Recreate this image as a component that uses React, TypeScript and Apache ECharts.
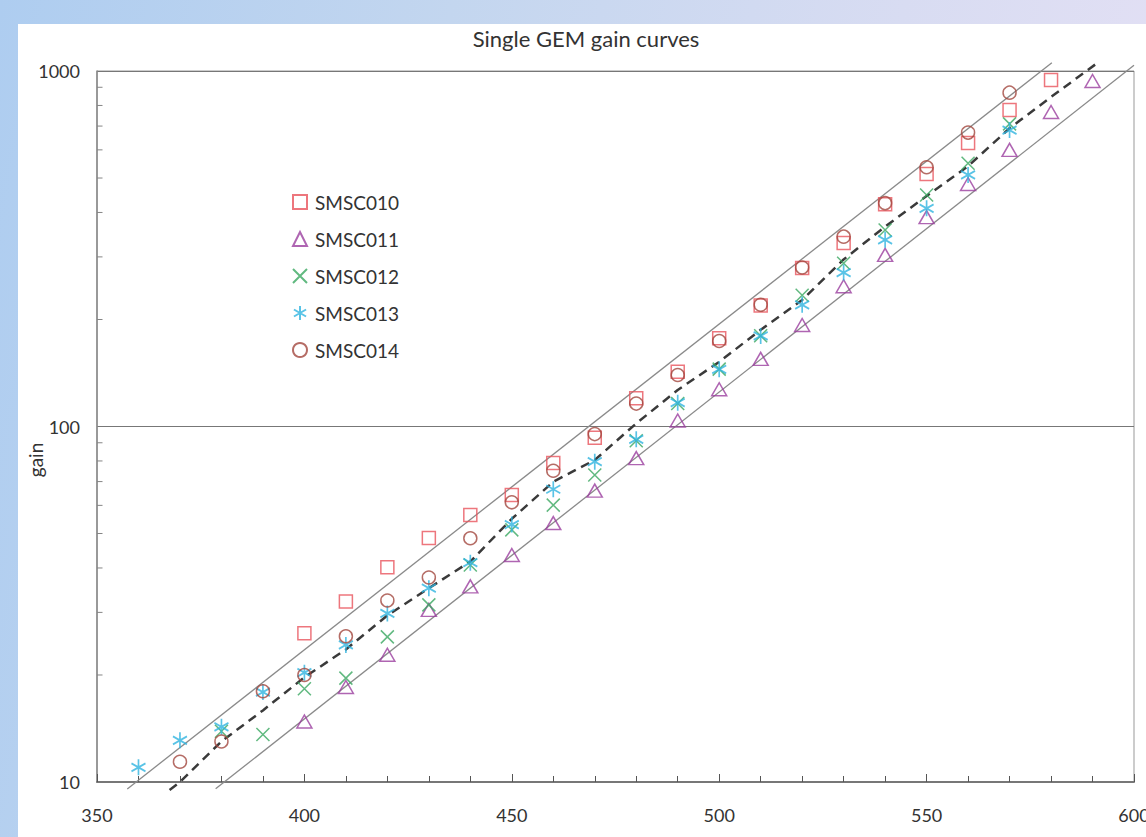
import React, { useEffect, useRef } from "react";
import * as echarts from "echarts";

// ---- data ----
const V010 = [400, 410, 420, 430, 440, 450, 460, 470, 480, 490, 500, 510, 520, 530, 540, 550, 560, 570, 580];
const G010 = [26.2, 32.2, 40.2, 48.6, 56.4, 64.2, 79.0, 93.0, 120, 142.6, 177, 219, 279, 328, 422, 513, 627, 777, 943];

const V011 = [400, 410, 420, 430, 440, 450, 460, 470, 480, 490, 500, 510, 520, 530, 540, 550, 560, 570, 580, 590];
const G011 = [14.8, 18.5, 22.8, 30.5, 35.5, 43.5, 53.5, 66.0, 81.5, 104, 127.3, 155, 193, 248, 304, 388, 481, 600, 767, 937];

const V012 = [380, 390, 400, 410, 420, 430, 440, 450, 460, 470, 480, 490, 500, 510, 520, 530, 540, 550, 560, 570];
const G012 = [13.9, 13.6, 18.3, 19.6, 25.6, 31.5, 40.8, 51.2, 60.1, 73.0, 91.2, 116, 145, 180, 234, 288, 357, 448, 550, 710];

const V013 = [360, 370, 380, 390, 400, 410, 420, 430, 440, 450, 460, 470, 480, 490, 500, 510, 520, 530, 540, 550, 560, 570];
const G013 = [11.0, 13.1, 14.3, 17.9, 20.3, 24.3, 29.8, 35.1, 41.4, 53.0, 66.6, 79.6, 92.0, 116.7, 144.8, 179.8, 220, 271, 335, 411, 510, 682];

const V014 = [370, 380, 390, 400, 410, 420, 430, 440, 450, 460, 470, 480, 490, 500, 510, 520, 530, 540, 550, 560, 570];
const G014 = [11.4, 13.0, 18.0, 20.0, 25.7, 32.4, 37.6, 48.5, 61.2, 75.1, 95.2, 116, 139.6, 174, 220, 280, 342, 425, 536, 671, 869];

const VMEAN = [367.5, 370, 380, 390, 400, 410, 420, 430, 440, 450, 460, 470, 480, 490, 500, 510, 520, 530, 540, 550, 560, 570, 580, 591];
const GMEAN = [9.5, 10.0, 13.0, 15.9, 19.7, 23.6, 29.4, 35.1, 41.7, 55, 69.9, 80.5, 102, 126.7, 152, 187, 227, 295, 365, 445, 540, 690, 845, 1050];

const UPPER_V = [357.3, 580.2];
const UPPER_G = [9.56, 1055];
const LOWER_V = [378.6, 600];
const LOWER_G = [9.57, 1038];

const Y_MINOR_TICKS = [20, 30, 40, 50, 60, 70, 80, 90, 200, 300, 400, 500, 600, 700, 800, 900];

const NAMES = ["SMSC010", "SMSC011", "SMSC012", "SMSC013", "SMSC014"];
const COLORS = ["#e8545c", "#9b3f9f", "#3aa860", "#2fb4e0", "#a2473f"];

const X_SYMBOL = "path://M0,0L10,10M10,0L0,10";
const STAR_SYMBOL = "path://M5,0L5,10M0.67,2.5L9.33,7.5M9.33,2.5L0.67,7.5";

const FONT = "Lato, 'Open Sans', sans-serif";

function pairs(xs: number[], ys: number[]) {
  return xs.map((x, i) => [x, ys[i]]);
}

export default function App() {
  const ref = useRef<HTMLDivElement>(null);

  useEffect(() => {
    if (!ref.current) return;
    const chart = echarts.init(ref.current, null, { renderer: "svg" });

    const scatter = (
      name: string,
      color: string,
      data: number[][],
      symbol: string,
      size: number | number[],
      bw = 1.5
    ) => ({
      name,
      type: "scatter",
      data,
      symbol,
      symbolSize: size,
      itemStyle: { color: "transparent", borderColor: color, borderWidth: bw },
      emphasis: { disabled: true },
      z: 5,
    });

    chart.setOption({
      animation: false,
      backgroundColor: "transparent",
      title: {
        text: "Single GEM gain curves",
        left: 581,
        textAlign: "center",
        top: 22,
        textStyle: { fontFamily: FONT, fontSize: 22, fontWeight: "normal", color: "#333" },
      },
      legend: {
        data: NAMES,
        orient: "vertical",
        left: 287,
        top: 186,
        itemWidth: 14,
        itemHeight: 14,
        itemGap: 15,
        textStyle: { fontFamily: FONT, fontSize: 19, color: "#333", lineHeight: 22, padding: [0, 0, 0, 3] },
      },
      graphic: [
        {
          type: "text",
          x: 35,
          y: 460,
          rotation: Math.PI / 2,
          style: {
            text: "gain",
            font: "normal 19px Lato, sans-serif",
            fill: "#333",
            align: "center",
            verticalAlign: "middle",
          },
        },
      ],
      grid: {
        left: 97,
        right: 12,
        top: 71,
        bottom: 55,
        show: true,
        borderColor: "#999",
        borderWidth: 1,
        backgroundColor: "transparent",
        containLabel: false,
        outerBoundsMode: "none",
      },
      xAxis: {
        type: "value",
        min: 350,
        max: 600,
        interval: 50,
        axisLine: { show: true, lineStyle: { color: "#777", width: 2 } },
        axisTick: { show: true, inside: true, length: 8, lineStyle: { color: "#555", width: 1 } },
        minorTick: { show: true, splitNumber: 5, length: 6, lineStyle: { color: "#555", width: 1 } },
        splitLine: { show: false },
        axisLabel: { fontFamily: FONT, fontSize: 18, color: "#333", margin: 24 },
        name: "ΔV{sub|GEM} (V)",
        nameLocation: "middle",
        nameGap: 57,
        nameTextStyle: {
          fontFamily: FONT,
          fontSize: 18,
          color: "#333",
          rich: { sub: { fontFamily: FONT, fontSize: 12, color: "#333", verticalAlign: "bottom" } },
        },
      },
      yAxis: {
        type: "log",
        logBase: 10,
        min: 10,
        max: 1000,
        axisLine: { show: true, lineStyle: { color: "#888", width: 1.5 } },
        axisTick: { show: false },
        splitLine: { show: true, lineStyle: { color: "#777", width: 1 } },
        axisLabel: {
          fontFamily: FONT,
          fontSize: 18,
          color: "#333",
          margin: 17,
          formatter: (v: number) => String(Math.round(v)),
        },
      },
      series: [
        {
          name: "upper",
          type: "line",
          data: pairs(UPPER_V, UPPER_G),
          symbol: "none",
          clip: false,
          silent: true,
          lineStyle: { color: "#8a8a8a", width: 1.3 },
          z: 2,
        },
        {
          name: "lower",
          type: "line",
          data: pairs(LOWER_V, LOWER_G),
          symbol: "none",
          clip: false,
          silent: true,
          lineStyle: { color: "#8a8a8a", width: 1.3 },
          z: 2,
        },
        {
          name: "mean",
          type: "line",
          data: pairs(VMEAN, GMEAN),
          symbol: "none",
          clip: false,
          silent: true,
          lineStyle: { color: "#3a3a3a", width: 2.5, type: [9, 6] },
          z: 3,
        },
        {
          name: "yminor",
          type: "scatter",
          data: Y_MINOR_TICKS.map((v) => [350, v]),
          symbol: "rect",
          symbolSize: [5, 1],
          symbolOffset: [3, 0],
          itemStyle: { color: "#666" },
          silent: true,
          clip: false,
          z: 6,
        },
        scatter(NAMES[0], COLORS[0], pairs(V010, G010), "rect", 13),
        scatter(NAMES[1], COLORS[1], pairs(V011, G011), "triangle", [15, 13]),
        scatter(NAMES[2], COLORS[2], pairs(V012, G012), X_SYMBOL, 13),
        scatter(NAMES[3], COLORS[3], pairs(V013, G013), STAR_SYMBOL, [14, 16], 1.8),
        scatter(NAMES[4], COLORS[4], pairs(V014, G014), "circle", 13),
      ],
    });

    return () => chart.dispose();
  }, []);

  return (
    <div
      style={{
        position: "fixed",
        left: 0,
        top: 0,
        width: 1146,
        height: 837,
        overflow: "hidden",
        background: "linear-gradient(100deg, #aecdf0 0%, #c3d6ef 35%, #d8dcf2 70%, #e6e1f5 100%)",
      }}
    >
      <div style={{ position: "absolute", left: 18, top: 24, right: 0, bottom: 0, background: "#fff" }} />
      <div ref={ref} style={{ position: "absolute", left: 0, top: 0, width: 1146, height: 837 }} />
    </div>
  );
}
